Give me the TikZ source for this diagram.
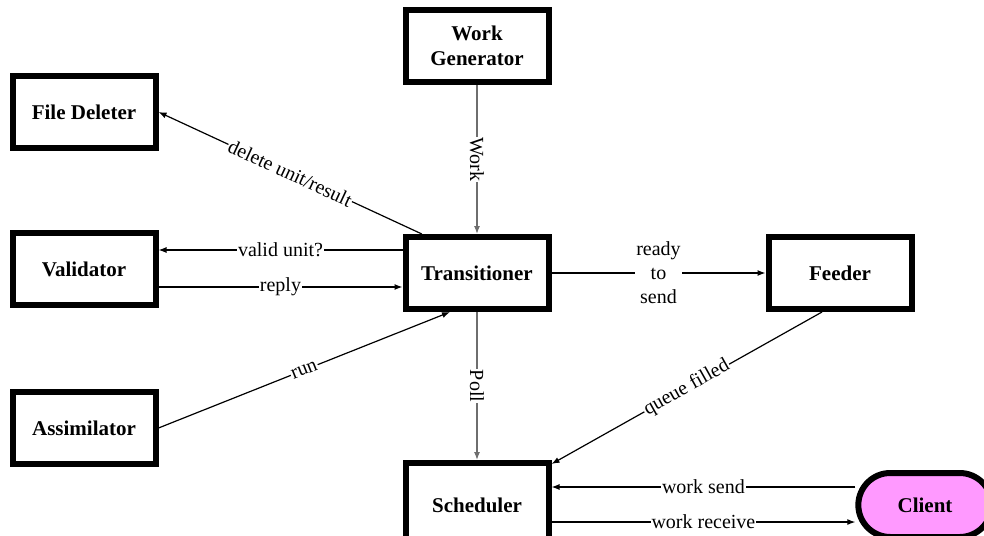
\documentclass[tikz,border=0pt]{standalone}
\usepackage{fontspec}
\setmainfont{Liberation Serif}
\usetikzlibrary{arrows.meta,shapes.misc,calc}
\definecolor{clientpink}{RGB}{255,153,255}
\definecolor{lgray}{RGB}{110,110,110}
\begin{document}
\begin{tikzpicture}[x=1pt,y=-1pt,
  box/.style={draw, line width=6pt, fill=white, minimum width=143pt, minimum height=72pt,
    inner sep=2pt, align=center, font=\fontsize{21}{25}\selectfont\bfseries},
  pill/.style={draw, line width=6pt, fill=clientpink, rounded rectangle, minimum width=140pt,
    minimum height=64pt, font=\fontsize{21}{25}\selectfont\bfseries},
  conn/.style={line width=1.2pt, -{Latex[length=8pt,width=6pt]}},
  lab/.style={fill=white, inner sep=1pt, font=\fontsize{20}{24}\selectfont},
  every node/.append style={text=black}]
\useasboundingbox (0,0) rectangle (984,535);
\node[box] (wg) at (477,46) {Work\\Generator};
\node[box] (fd) at (84,112) {File Deleter};
\node[box] (val) at (84,269) {Validator};
\node[box] (tr) at (477,273) {Transitioner};
\node[box] (fe) at (840,273) {Feeder};
\node[box] (as) at (84,428) {Assimilator};
\node[box, minimum height=84pt] (sc) at (477,505) {Scheduler};
\node[pill] (cl) at (925,505) {Client};
% Work
\draw[conn, draw=lgray] (wg.south) -- (tr.north)
  node[lab, midway, rotate=-90] {Work};
% delete unit/result
\draw[conn] ($(tr.north west)!0.13!(tr.north east)$) -- (fd.east)
  node[lab, midway, sloped] {delete unit/result};
% valid unit?
\draw[conn] ([yshift=23pt]tr.west) -- ([yshift=23pt]tr.west -| val.east)
  node[lab, midway] {valid unit?};
% reply
\draw[conn] ([yshift=-18pt]val.east) -- ([yshift=-18pt]val.east -| tr.west)
  node[lab, midway] {reply};
% run
\draw[conn] (as.east) -- ([xshift=-27pt]tr.south)
  node[lab, midway, sloped] {run};
% ready to send
\draw[conn] (tr.east) -- (fe.west)
  node[lab, midway, align=center, font=\fontsize{20}{24}\selectfont] {ready\\to\\send};
% Poll
\draw[conn, draw=lgray] (tr.south) -- (sc.north)
  node[lab, midway, rotate=-90] {Poll};
% queue filled
\draw[conn] ([xshift=-18pt]fe.south) -- ([yshift=-4pt]sc.north east)
  node[lab, midway, sloped] {queue filled};
% work send
\draw[conn] ([yshift=18pt]cl.west) -- ([yshift=18pt]cl.west -| sc.east)
  node[lab, midway] {work send};
% work receive
\draw[conn] ([yshift=-17pt]cl.west -| sc.east) -- ([yshift=-17pt]cl.west)
  node[lab, midway] {work receive};
\end{tikzpicture}
\end{document}
